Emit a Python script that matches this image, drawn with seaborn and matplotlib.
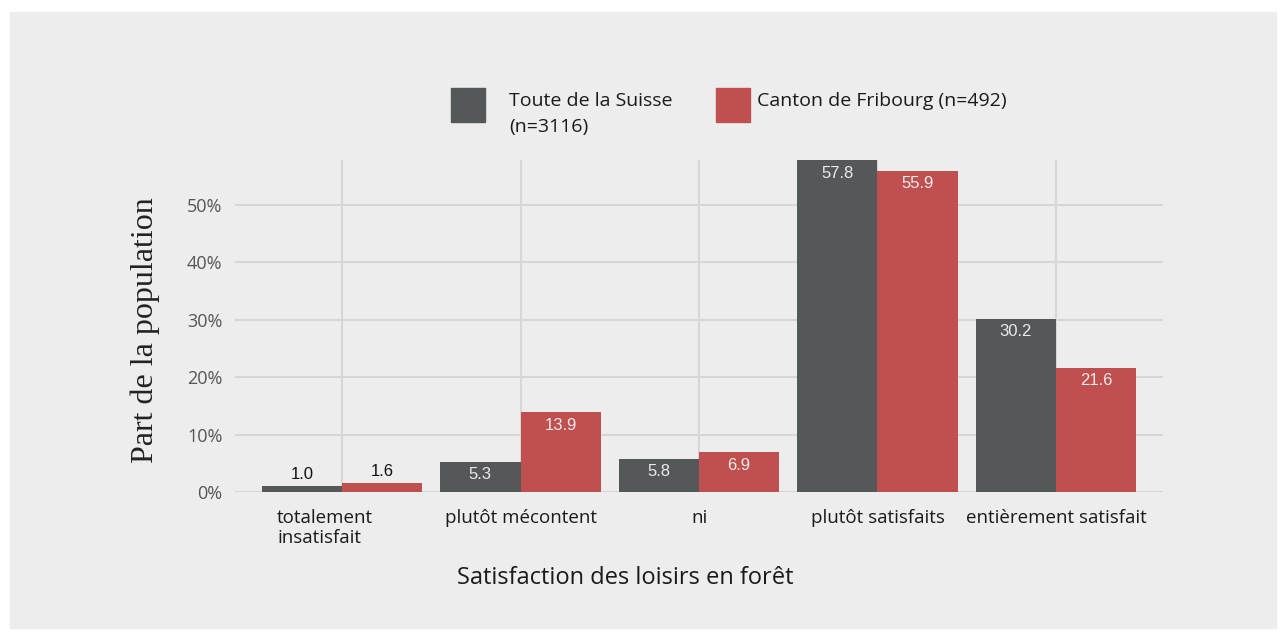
import pandas as pd
import matplotlib.pyplot as plt
import matplotlib.patches as mpatches
import matplotlib.transforms as mtransforms
import seaborn as sns

# data
categories = ['totalement\ninsatisfait', 'plutôt mécontent', 'ni',
              'plutôt satisfaits', 'entièrement satisfait']
groups = ['Toute de la Suisse\n(n=3116)', 'Canton de Fribourg (n=492)']
suisse = [1.0, 5.3, 5.8, 57.8, 30.2]
fribourg = [1.6, 13.9, 6.9, 55.9, 21.6]
yticks = [0, 10, 20, 30, 40, 50]
colors = ['#555859', '#c0504f']

df = pd.DataFrame({
    'categorie': categories * 2,
    'groupe': [groups[0]] * 5 + [groups[1]] * 5,
    'part': suisse + fribourg,
})

bg = '#ededed'
sns.set_style('whitegrid', {'axes.facecolor': bg, 'grid.color': '#d6d6d6'})
plt.rcParams['font.family'] = ['Open Sans', 'DejaVu Sans']

W, H = 1284, 633
fig = plt.figure(figsize=(W / 100, H / 100), dpi=100)
fig.patch.set_facecolor('white')
# grey panel behind everything
fig.patches.append(mpatches.Rectangle((10 / W, 5 / H), 1266 / W, 616 / H,
                                      transform=fig.transFigure, color=bg, zorder=-10))

ax = fig.add_axes([235 / W, 1 - 492 / H, 928 / W, 332 / H])
sns.barplot(data=df, x='categorie', y='part', hue='groupe', order=categories,
            hue_order=groups, palette=colors, width=0.9, saturation=1,
            linewidth=0, ax=ax, legend=False, zorder=3)

ax.set_xlim(-0.6, 4.6)
ax.set_ylim(0, 57.8)
ax.set_yticks(yticks)
ax.set_yticklabels([f'{v}%' for v in yticks], color='#555555', fontsize=13)
ax.set_xticklabels(categories, fontsize=13.5, color='#1a1a1a', multialignment='left')
ax.tick_params(axis='y', length=0, pad=9)
ax.tick_params(axis='x', length=0, pad=12)
ax.grid(True, axis='both', linewidth=1.5, color='#d6d6d6', zorder=0)
ax.set_axisbelow(True)
for s in ax.spines.values():
    s.set_visible(False)
ax.set_xlabel('')
ax.set_ylabel('')

# first tick label sits a bit left of its bar pair in the reference
lab0 = ax.get_xticklabels()[0]
lab0.set_transform(lab0.get_transform() +
                   mtransforms.ScaledTranslation(-17 / 100, 0, fig.dpi_scale_trans))

# value labels: inside near the top, above for tiny bars
for cont in ax.containers:
    for rect in cont:
        h = rect.get_height()
        xc = rect.get_x() + rect.get_width() / 2
        if h < 3:
            ax.annotate(f'{h:.1f}', (xc, h), xytext=(0, 3), textcoords='offset points',
                        ha='center', va='bottom', fontsize=12, color='#111111',
                        family=['Liberation Sans', 'DejaVu Sans'])
        else:
            ax.annotate(f'{h:.1f}', (xc, h), xytext=(0, -4), textcoords='offset points',
                        ha='center', va='top', fontsize=12, color='#ebebeb',
                        family=['Liberation Sans', 'DejaVu Sans'])

fig.text(145 / W, 1 - 330 / H, 'Part de la population', rotation=90,
         ha='center', va='center', fontsize=23, color='#222222',
         family=['Liberation Serif', 'DejaVu Serif'])
fig.text(625 / W, 1 - 578 / H, 'Satisfaction des loisirs en forêt',
         ha='center', va='center', fontsize=17, color='#1a1a1a')

# legend drawn by hand: squares with text beside them
for (x0, tx), col, lab in zip([(451, 509), (716, 757)], colors, groups):
    fig.patches.append(mpatches.Rectangle((x0 / W, 1 - 122 / H), 34 / W, 34 / H,
                                          transform=fig.transFigure, color=col))
    fig.text(tx / W, 1 - 92 / H, lab, ha='left', va='top', fontsize=14,
             color='#1a1a1a', linespacing=1.6)

fig.savefig('out.png', dpi=100, facecolor='white')
